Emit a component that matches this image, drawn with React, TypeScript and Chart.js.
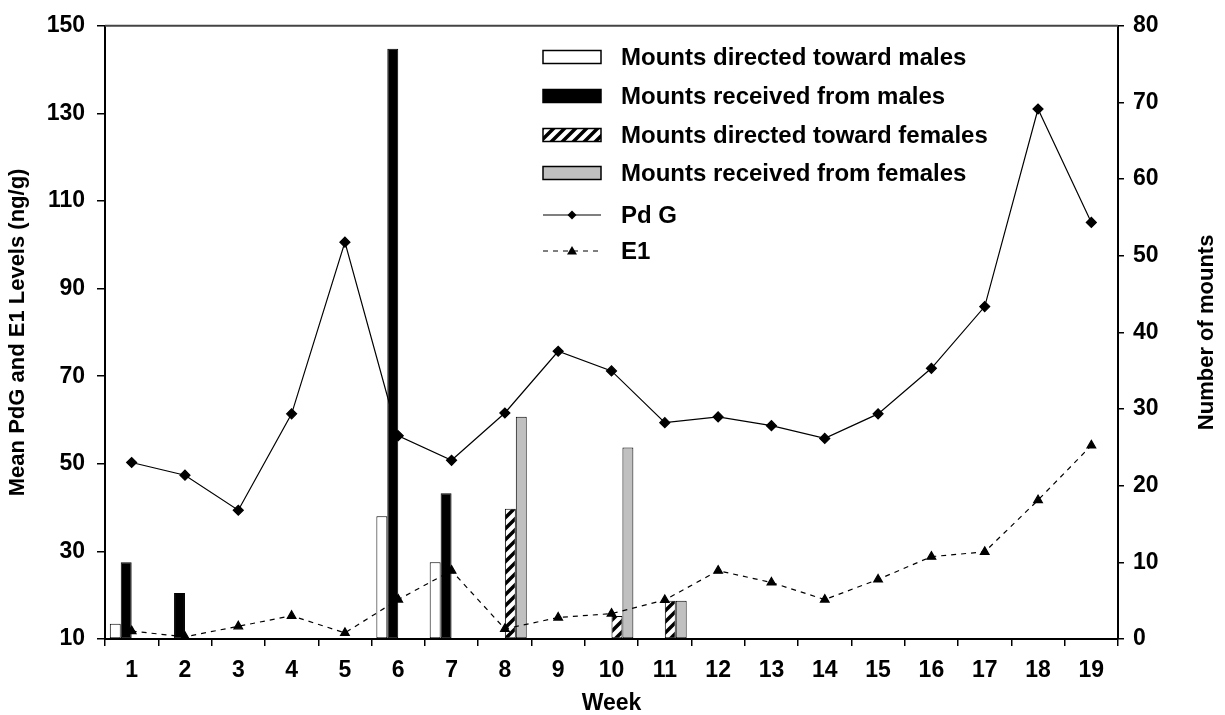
import React, { useEffect, useRef } from 'react';
import { Chart, registerables } from 'chart.js';

Chart.register(...registerables);

const weeks = ['1', '2', '3', '4', '5', '6', '7', '8', '9', '10', '11', '12', '13', '14', '15', '16', '17', '18', '19'];

const pdgLevels = [50.3, 47.4, 39.4, 61.4, 100.6, 56.4, 50.8, 61.6, 75.7, 71.2, 59.4, 60.7, 58.7, 55.8, 61.4, 71.8, 85.9, 131, 105.1];
const e1Levels = [11.8, 10.5, 12.9, 15.3, 11.4, 19, 25.6, 12.3, 14.9, 15.8, 18.9, 25.6, 22.9, 19, 23.6, 28.8, 29.9, 41.7, 54.2];

const mountsDirectedTowardMales = [2, null, null, null, null, 16, 10, null, null, null, null, null, null, null, null, null, null, null, null];
const mountsReceivedFromMales = [10, 6, null, null, null, 77, 19, null, null, null, null, null, null, null, null, null, null, null, null];
const mountsDirectedTowardFemales = [null, null, null, null, null, null, null, 17, null, 3, 5, null, null, null, null, null, null, null, null];
const mountsReceivedFromFemales = [null, null, null, null, null, null, null, 29, null, 25, 5, null, null, null, null, null, null, null, null];

const leftTicks = { min: 10, max: 150, step: 20 };
const rightTicks = { min: 0, max: 80, step: 10 };

const legendLabels = [
  'Mounts directed toward males',
  'Mounts received from males',
  'Mounts directed toward females',
  'Mounts received from females',
  'Pd G',
  'E1',
];

const leftTitle = 'Mean PdG and E1 Levels (ng/g)';
const rightTitle = 'Number of mounts';
const xTitle = 'Week';

const FONT = '"Liberation Sans", Arial, sans-serif';
const GRAY = '#c0c0c0';

function makeHatch(): CanvasPattern | string {
  const s = 11;
  const c = document.createElement('canvas');
  c.width = s;
  c.height = s;
  const g = c.getContext('2d');
  if (!g) return '#888';
  g.fillStyle = '#fff';
  g.fillRect(0, 0, s, s);
  g.strokeStyle = '#000';
  g.lineWidth = 3.5;
  g.beginPath();
  g.moveTo(0, s);
  g.lineTo(s, 0);
  g.moveTo(-s / 2, s / 2);
  g.lineTo(s / 2, -s / 2);
  g.moveTo(s / 2, s + s / 2);
  g.lineTo(s + s / 2, s / 2);
  g.stroke();
  const p = g.createPattern(c, 'repeat');
  return p || '#888';
}

export default function App() {
  const ref = useRef<HTMLCanvasElement>(null);

  useEffect(() => {
    const canvas = ref.current;
    if (!canvas) return;
    const hatch = makeHatch();

    const framePlugin = {
      id: 'frameTop',
      afterDatasetsDraw(chart: any) {
        const { ctx, chartArea } = chart;
        ctx.save();
        ctx.strokeStyle = '#444';
        ctx.lineWidth = 2;
        ctx.beginPath();
        ctx.moveTo(chartArea.left, chartArea.top);
        ctx.lineTo(chartArea.right, chartArea.top);
        ctx.stroke();
        ctx.restore();
      },
    };

    const rightTitlePlugin = {
      id: 'rightTitle',
      afterDraw(chart: any) {
        const { ctx, chartArea } = chart;
        ctx.save();
        ctx.translate(1207, (chartArea.top + chartArea.bottom) / 2);
        ctx.rotate(-Math.PI / 2);
        ctx.fillStyle = '#000';
        ctx.font = `bold 22px ${FONT}`;
        ctx.textAlign = 'center';
        ctx.textBaseline = 'middle';
        ctx.fillText(rightTitle, 0, 0);
        ctx.restore();
      },
    };

    const legendPlugin = {
      id: 'customLegend',
      afterDraw(chart: any) {
        const ctx = chart.ctx as CanvasRenderingContext2D;
        const x0 = 543;
        const w = 58;
        const tx = 621;
        const rows = [57, 96, 135, 173, 215, 251];
        const fills: (string | CanvasPattern)[] = ['#fff', '#000', hatch, GRAY];
        ctx.save();
        for (let i = 0; i < 4; i++) {
          const y = rows[i] - 6.5;
          ctx.fillStyle = fills[i];
          ctx.fillRect(x0, y, w, 13);
          ctx.strokeStyle = '#000';
          ctx.lineWidth = 1.5;
          ctx.strokeRect(x0, y, w, 13);
        }
        // Pd G
        ctx.strokeStyle = '#000';
        ctx.lineWidth = 1.2;
        ctx.setLineDash([]);
        ctx.beginPath();
        ctx.moveTo(x0, rows[4]);
        ctx.lineTo(x0 + w, rows[4]);
        ctx.stroke();
        const cx = x0 + w / 2;
        ctx.fillStyle = '#000';
        ctx.beginPath();
        ctx.moveTo(cx, rows[4] - 4.5);
        ctx.lineTo(cx + 4.5, rows[4]);
        ctx.lineTo(cx, rows[4] + 4.5);
        ctx.lineTo(cx - 4.5, rows[4]);
        ctx.closePath();
        ctx.fill();
        // E1
        ctx.setLineDash([5, 5]);
        ctx.beginPath();
        ctx.moveTo(x0, rows[5]);
        ctx.lineTo(x0 + w, rows[5]);
        ctx.stroke();
        ctx.setLineDash([]);
        ctx.beginPath();
        ctx.moveTo(cx, rows[5] - 5);
        ctx.lineTo(cx + 5, rows[5] + 3.5);
        ctx.lineTo(cx - 5, rows[5] + 3.5);
        ctx.closePath();
        ctx.fill();
        // text
        ctx.fillStyle = '#000';
        ctx.font = `bold 24px ${FONT}`;
        ctx.textBaseline = 'middle';
        ctx.textAlign = 'left';
        for (let i = 0; i < legendLabels.length; i++) {
          ctx.fillText(legendLabels[i], tx, rows[i] + 1);
        }
        ctx.restore();
      },
    };

    const tickFont = { family: FONT, size: 23, weight: 'bold' as const };
    const titleFont = { family: FONT, size: 22, weight: 'bold' as const };

    const barCommon = {
      type: 'bar' as const,
      yAxisID: 'y1',
      borderColor: '#000',
      borderWidth: 1,
      borderSkipped: false as const,
      categoryPercentage: 0.82,
      barPercentage: 1.0,
      order: 2,
    };

    const chart = new Chart(canvas, {
      type: 'bar',
      data: {
        labels: weeks,
        datasets: [
          { ...barCommon, label: legendLabels[0], data: mountsDirectedTowardMales, backgroundColor: '#fff' },
          { ...barCommon, label: legendLabels[1], data: mountsReceivedFromMales, backgroundColor: '#000' },
          { ...barCommon, label: legendLabels[2], data: mountsDirectedTowardFemales, backgroundColor: hatch as any },
          { ...barCommon, label: legendLabels[3], data: mountsReceivedFromFemales, backgroundColor: GRAY },
          {
            type: 'line' as const,
            label: legendLabels[4],
            data: pdgLevels,
            yAxisID: 'y',
            borderColor: '#000',
            borderWidth: 1.2,
            pointStyle: 'rectRot',
            pointRadius: 5,
            pointBackgroundColor: '#000',
            pointBorderColor: '#000',
            tension: 0,
            order: 0,
          } as any,
          {
            type: 'line' as const,
            label: legendLabels[5],
            data: e1Levels,
            yAxisID: 'y',
            borderColor: '#000',
            borderWidth: 1.2,
            borderDash: [5, 5],
            pointStyle: 'triangle',
            pointRadius: 5,
            pointBackgroundColor: '#000',
            pointBorderColor: '#000',
            tension: 0,
            order: 1,
          } as any,
        ],
      },
      options: {
        responsive: false,
        animation: false,
        devicePixelRatio: 1,
        layout: { padding: { top: 22, left: 0, right: 0, bottom: 0 } },
        plugins: {
          legend: { display: false },
          tooltip: { enabled: false },
        },
        scales: {
          x: {
            type: 'category',
            offset: true,
            grid: {
              display: true,
              offset: true,
              drawOnChartArea: false,
              drawTicks: true,
              tickLength: 7,
              color: '#000',
              lineWidth: 1.5,
            },
            border: { display: true, color: '#000', width: 2 },
            ticks: { color: '#000', font: tickFont, padding: 11, maxRotation: 0, autoSkip: false },
            title: { display: true, text: xTitle, color: '#000', font: { ...titleFont, size: 23 }, padding: { top: 0, bottom: -2 } },
            afterFit(s: any) {
              s.height = 76;
            },
          },
          y: {
            type: 'linear',
            position: 'left',
            min: leftTicks.min,
            max: leftTicks.max,
            grid: {
              display: true,
              drawOnChartArea: false,
              drawTicks: true,
              tickLength: 8,
              color: '#000',
              lineWidth: 1.5,
            },
            border: { display: true, color: '#000', width: 2 },
            ticks: { stepSize: leftTicks.step, color: '#000', font: tickFont, padding: 12 },
            title: {
              display: true,
              text: leftTitle,
              color: '#000',
              font: titleFont,
              padding: { top: 5, bottom: 0 },
            },
            afterFit(s: any) {
              s.width = 105;
            },
          },
          y1: {
            type: 'linear',
            position: 'right',
            min: rightTicks.min,
            max: rightTicks.max,
            grid: {
              display: true,
              drawOnChartArea: false,
              drawTicks: true,
              tickLength: 6,
              color: '#000',
              lineWidth: 1.5,
            },
            border: { display: true, color: '#000', width: 2 },
            ticks: { stepSize: rightTicks.step, color: '#000', font: tickFont, padding: 9 },
            title: { display: false },
            afterFit(s: any) {
              s.width = 107;
            },
          },
        },
      },
      plugins: [framePlugin, legendPlugin, rightTitlePlugin],
    });

    return () => chart.destroy();
  }, []);

  return (
    <div style={{ position: 'absolute', left: 0, top: 0, width: 1225, height: 715, background: '#fff' }}>
      <canvas ref={ref} width={1225} height={715} style={{ display: 'block' }} />
    </div>
  );
}
